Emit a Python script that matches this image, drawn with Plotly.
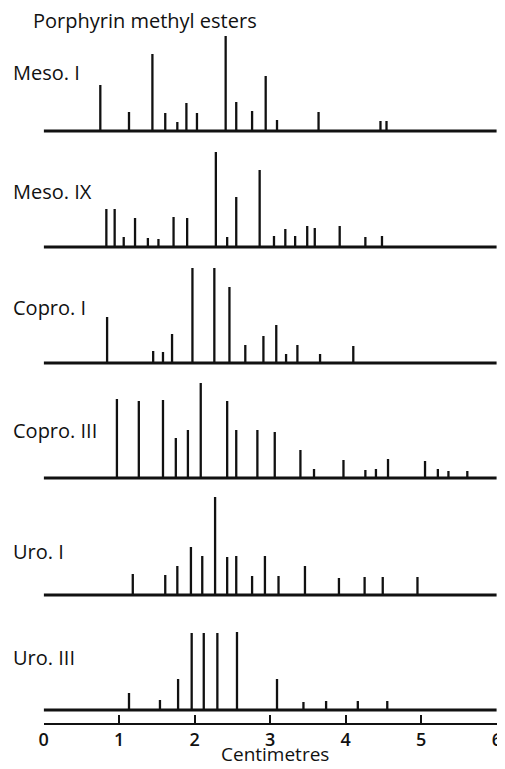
import plotly.graph_objects as go

# ---------------- data (positions in cm, relative peak heights) ----------------
samples = ["Meso. I", "Meso. IX", "Copro. I", "Copro. III", "Uro. I", "Uro. III"]

meso1_pos = [0.75, 1.13, 1.44, 1.61, 1.77, 1.89, 2.03, 2.41, 2.55, 2.76, 2.94, 3.09, 3.64, 4.46, 4.54]
meso1_h = [46, 19, 77, 18, 9, 28, 18, 95, 29, 20, 55, 11, 19, 10, 10]

meso9_pos = [0.83, 0.94, 1.06, 1.21, 1.38, 1.52, 1.72, 1.90, 2.28, 2.43, 2.55, 2.86, 3.05, 3.20,
             3.33, 3.49, 3.59, 3.92, 4.26, 4.48]
meso9_h = [38, 38, 10, 29, 9, 8, 30, 29, 95, 10, 50, 77, 11, 18, 11, 21, 19, 21, 10, 11]

copro1_pos = [0.84, 1.45, 1.58, 1.70, 1.97, 2.26, 2.46, 2.67, 2.91, 3.08, 3.21, 3.36, 3.66, 4.10]
copro1_h = [46, 12, 11, 29, 95, 95, 76, 18, 27, 38, 9, 18, 9, 17]

copro3_pos = [0.97, 1.26, 1.58, 1.75, 1.91, 2.08, 2.43, 2.55, 2.83, 3.06, 3.40, 3.58, 3.97, 4.26,
              4.40, 4.56, 5.05, 5.22, 5.36, 5.61]
copro3_h = [79, 77, 78, 40, 48, 95, 77, 48, 48, 46, 28, 9, 18, 8, 9, 19, 17, 9, 7, 7]

uro1_pos = [1.18, 1.61, 1.77, 1.95, 2.10, 2.27, 2.43, 2.55, 2.76, 2.93, 3.11, 3.46, 3.91, 4.25, 4.49, 4.95]
uro1_h = [21, 20, 29, 48, 39, 98, 38, 39, 19, 39, 19, 29, 17, 18, 18, 18]

uro3_pos = [1.13, 1.54, 1.78, 1.96, 2.12, 2.30, 2.56, 3.09, 3.44, 3.74, 4.16, 4.55]
uro3_h = [17, 10, 31, 77, 77, 77, 78, 31, 8, 9, 9, 9]

tick_vals = [0, 1, 2, 3, 4, 5, 6]
tick_text = ["0", "1", "2", "3", "4", "5", "6"]

title_text = "Porphyrin methyl esters"
xlabel_text = "Centimetres"

series = [(meso1_pos, meso1_h), (meso9_pos, meso9_h), (copro1_pos, copro1_h),
          (copro3_pos, copro3_h), (uro1_pos, uro1_h), (uro3_pos, uro3_h)]

# ---------------- layout geometry (window pixels) ----------------
WIN_W, WIN_H = 505, 769
OFF = 8                      # page body margin around the plot div
W, H = WIN_W - OFF, WIN_H - OFF
baselines = [131, 247, 363, 478, 595, 710]
label_y = [72, 191, 307, 430, 551, 657]
ruler_px = 722.7
x0_px, x1_px = 39.3, 501.7
PANEL = 100.0

FONT = "Open Sans"
INK = "#111111"

fig = go.Figure()
layout = dict(
    width=W, height=H,
    margin=dict(l=0, r=0, t=0, b=0),
    paper_bgcolor="white", plot_bgcolor="white",
    showlegend=False,
    font=dict(family=FONT, color=INK),
)


def px_x(px):
    return (px - OFF) / W


def px_y(px):
    return 1 - (px - OFF) / H


for i, (pos, hts) in enumerate(series):
    n = i + 1
    xa = "x" if n == 1 else f"x{n}"
    ya = "y" if n == 1 else f"y{n}"
    B = baselines[i]
    last = i == len(series) - 1
    bottom_px = ruler_px if last else B + 3
    top_px = B - PANEL
    below = bottom_px - B

    # baseline
    fig.add_trace(go.Scatter(x=[tick_vals[0], tick_vals[-1]], y=[0, 0], mode="lines",
                             line=dict(color=INK, width=3), xaxis=xa, yaxis=ya,
                             hoverinfo="skip"))
    # sticks
    xs, ys = [], []
    for p, h in zip(pos, hts):
        xs += [p, p, None]
        ys += [0, h, None]
    fig.add_trace(go.Scatter(x=xs, y=ys, mode="lines",
                             line=dict(color=INK, width=2.3), xaxis=xa, yaxis=ya,
                             hoverinfo="skip"))

    xkey = "xaxis" if n == 1 else f"xaxis{n}"
    ykey = "yaxis" if n == 1 else f"yaxis{n}"
    layout[xkey] = dict(
        domain=[px_x(x0_px), min(1.0, px_x(x1_px))], range=[tick_vals[0], tick_vals[-1]],
        anchor=ya, showgrid=False, zeroline=False,
        visible=last,
        showline=last, linecolor=INK, linewidth=2,
        ticks="inside" if last else "", ticklen=8, tickwidth=2, tickcolor=INK,
        tickvals=tick_vals, ticktext=tick_text,
        ticklabeloverflow="allow",
        tickfont=dict(family=FONT, size=18, color=INK, weight=600),
    )
    layout[ykey] = dict(
        domain=[max(0.0, px_y(bottom_px)), px_y(top_px)], range=[-below, PANEL],
        anchor=xa, visible=False, fixedrange=True,
    )

annotations = []
annotations.append(dict(text=title_text, x=px_x(26), y=px_y(21), xref="paper", yref="paper",
                        xanchor="left", yanchor="middle", showarrow=False,
                        font=dict(family=FONT, size=20, color=INK)))
for name, yc in zip(samples, label_y):
    annotations.append(dict(text=name, x=px_x(6), y=px_y(yc), xref="paper", yref="paper",
                            xanchor="left", yanchor="middle", showarrow=False,
                            font=dict(family=FONT, size=20, color=INK)))
annotations.append(dict(text=xlabel_text, x=px_x(275), y=0, xref="paper",
                        yref="paper", xanchor="center", yanchor="bottom", showarrow=False,
                        font=dict(family=FONT, size=19, color=INK)))
layout["annotations"] = annotations

fig.update_layout(**layout)
fig.write_html("out.html")
